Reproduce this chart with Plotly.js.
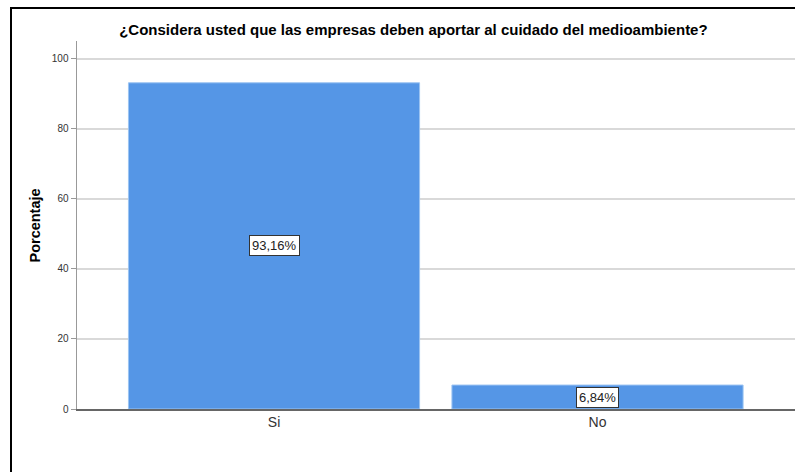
<!DOCTYPE html>
<html>
<head>
<meta charset="utf-8">
<script src="https://cdn.plot.ly/plotly-3.0.1.min.js"></script>
<style>
html,body{margin:0;padding:0;background:#fff;overflow:hidden;width:795px;height:472px;}
#wrap{position:relative;width:795px;height:472px;overflow:hidden;}
#chart{position:absolute;left:0;top:0;width:795px;height:472px;}
#frame{position:absolute;left:10px;top:7px;width:800px;height:480px;border-left:2px solid #000;border-top:2px solid #000;pointer-events:none;}
</style>
</head>
<body>
<div id="wrap"><div id="chart"></div><div id="frame"></div></div>
<script>
const categories = ["Si", "No"];
const percentages = [93.16, 6.84];
const labels = ["93,16%", "6,84%"];
const yTicks = [0, 20, 40, 60, 80, 100];

const trace = {
  type: "bar",
  x: categories,
  y: percentages,
  width: 0.9,
  marker: {color: "#5596e6", line: {color: "#9cc4f2", width: 1}},
  hoverinfo: "none"
};

const annotations = categories.map((c, i) => ({
  x: c, y: percentages[i] / 2, xref: "x", yref: "y",
  text: labels[i], showarrow: false,
  font: {family: "Liberation Sans, Arial, sans-serif", size: 13, color: "#222"},
  bgcolor: "#ffffff", bordercolor: "#333", borderwidth: 1, borderpad: 2
}));

annotations.push({
  xref: "paper", yref: "y", x: -0.058, y: 52.5, xanchor: "center", yanchor: "middle",
  text: "<b>Porcentaje</b>", textangle: -90, showarrow: false,
  font: {family: "Liberation Sans, Arial, sans-serif", size: 14.5, color: "#000"}
});

const layout = {
  width: 795, height: 472,
  margin: {l: 77, r: 0, t: 41, b: 63},
  paper_bgcolor: "#fff", plot_bgcolor: "#fff",
  showlegend: false,
  title: {
    text: "<b>¿Considera usted que las empresas deben aportar al cuidado del medioambiente?</b>",
    x: 0.52, xanchor: "center", xref: "container", y: 0.938, yanchor: "middle",
    font: {family: "Liberation Sans, Arial, sans-serif", size: 15, color: "#000"}
  },
  xaxis: {
    type: "category", range: [-0.609, 1.6105],
    showline: true, linecolor: "#666", linewidth: 1.5,
    ticks: "", showgrid: false, zeroline: false,
    tickfont: {family: "Liberation Sans, Arial, sans-serif", size: 14, color: "#333"}
  },
  yaxis: {
    range: [0, 105.1], tickvals: yTicks, ticktext: yTicks.map(String),
    showline: true, linecolor: "#999", linewidth: 1.5,
    ticks: "outside", ticklen: 5, tickcolor: "#999",
    showgrid: true, gridcolor: "#d9d9d9", gridwidth: 1.5, zeroline: false,
    tickfont: {family: "Liberation Sans, Arial, sans-serif", size: 10, color: "#333"}
  },
  annotations: annotations
};

Plotly.newPlot("chart", [trace], layout, {displayModeBar: false, staticPlot: true});
</script>
</body>
</html>
